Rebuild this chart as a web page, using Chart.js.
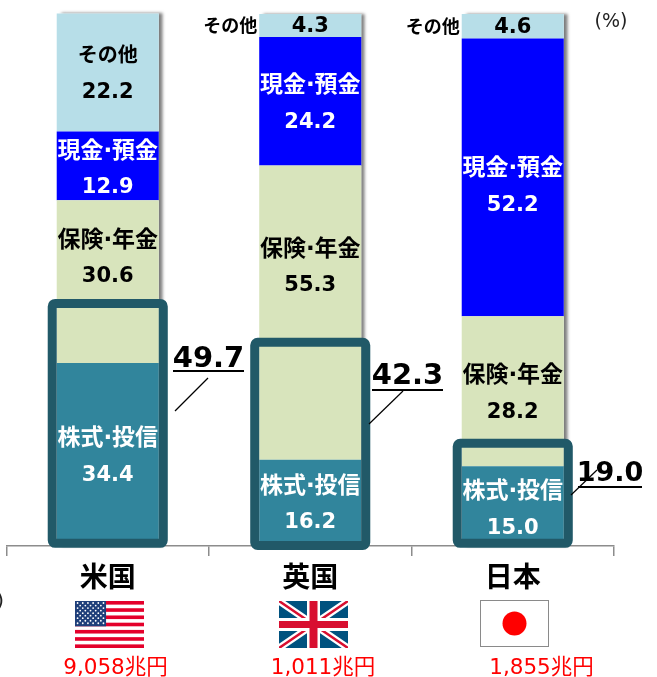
<!DOCTYPE html>
<html lang="ja">
<head>
<meta charset="utf-8">
<title>家計の金融資産構成</title>
<script src="https://cdn.jsdelivr.net/npm/chart.js@4"></script>
<style>
  html, body { margin: 0; padding: 0; background: #fff; overflow: hidden; }
  canvas { display: block; }
</style>
</head>
<body>
<canvas id="assetChart" width="657" height="677"></canvas>
<script>
// Household financial assets by country (%)
const countries = ['米国', '英国', '日本'];
const stockFunds = [34.4, 16.2, 15.0];
const insurancePension = [30.6, 55.3, 28.2];
const cashDeposits = [12.9, 24.2, 52.2];
const others = [22.2, 4.3, 4.6];
const riskShare = ['49.7', '42.3', '19.0'];
const totalAssets = ['9,058兆円', '1,011兆円', '1,855兆円'];

// Highlight frame extent on the value axis
const frameTop = [45.6, 38.3, 19.3];
const frameBottom = [0.5, 0.1, 0.5];

const FONT_JP = '"DejaVu Sans", "Noto Sans CJK JP", sans-serif';
const FRAME_COLOR = '#215968';

const segmentLabels = ['株式·投信', '保険·年金', '現金·預金', 'その他'];
const segmentText = ['#fff', '#000', '#fff', '#000'];
const segmentFontSize = [23, 23, 23, 20];
// vertical nudge of each label block, so text clears the frames
const labelNudge = [[1, 0, 2], [-25, -47, 1], [2, 1, 8], [0, 0, 0]];

function text(ctx, str, x, y, font, color, align) {
  ctx.font = font;
  ctx.fillStyle = color;
  ctx.textAlign = align || 'center';
  ctx.textBaseline = 'middle';
  ctx.fillText(str, x, y);
}

function drawUsFlag(ctx, x, y, w, h) {
  const stripe = h / 13;
  ctx.fillStyle = '#fff';
  ctx.fillRect(x, y, w, h);
  ctx.fillStyle = '#e4002b';
  for (let i = 0; i < 13; i += 2) ctx.fillRect(x, y + i * stripe, w, stripe);
  ctx.fillStyle = '#1f3f7a';
  const cw = w * 0.45, ch = stripe * 7;
  ctx.fillRect(x, y, cw, ch);
  ctx.fillStyle = '#fff';
  for (let r = 0; r < 9; r++) {
    const n = r % 2 ? 5 : 6;
    for (let c = 0; c < n; c++) {
      const sx = x + (c + (r % 2 ? 1 : 0.5)) * cw / 6;
      const sy = y + (r + 0.8) * ch / 10;
      ctx.beginPath();
      ctx.arc(sx, sy, 0.9, 0, Math.PI * 2);
      ctx.fill();
    }
  }
}

function drawUkFlag(ctx, x, y, w, h) {
  ctx.save();
  ctx.beginPath();
  ctx.rect(x, y, w, h);
  ctx.clip();
  ctx.fillStyle = '#00527f';
  ctx.fillRect(x, y, w, h);
  const diag = (color, width) => {
    ctx.strokeStyle = color;
    ctx.lineWidth = width;
    ctx.beginPath();
    ctx.moveTo(x, y); ctx.lineTo(x + w, y + h);
    ctx.moveTo(x + w, y); ctx.lineTo(x, y + h);
    ctx.stroke();
  };
  diag('#fff', 7);
  diag('#d80f30', 2.5);
  ctx.fillStyle = '#fff';
  ctx.fillRect(x + w / 2 - 6.5, y, 13, h);
  ctx.fillRect(x, y + h / 2 - 6.5, w, 13);
  ctx.fillStyle = '#d80f30';
  ctx.fillRect(x + w / 2 - 4, y, 8, h);
  ctx.fillRect(x, y + h / 2 - 3.5, w, 7);
  ctx.restore();
}

function drawJpFlag(ctx, x, y, w, h) {
  ctx.fillStyle = '#fff';
  ctx.fillRect(x, y, w, h);
  ctx.strokeStyle = '#8a8a8a';
  ctx.lineWidth = 1;
  ctx.strokeRect(x + 0.5, y + 0.5, w - 1, h - 1);
  ctx.fillStyle = '#ff0000';
  ctx.beginPath();
  ctx.arc(x + w / 2, y + h / 2, 12, 0, Math.PI * 2);
  ctx.fill();
}

// soft shadow down the right edge of each full stack
const barShadow = {
  id: 'barShadow',
  beforeDatasetsDraw(chart) {
    const ctx = chart.ctx;
    const lowest = chart.getDatasetMeta(0).data;
    const highest = chart.getDatasetMeta(chart.data.datasets.length - 1).data;
    ctx.save();
    ctx.shadowColor = 'rgba(0,0,0,0.5)';
    ctx.shadowBlur = 3;
    ctx.shadowOffsetX = 4;
    ctx.fillStyle = '#fff';
    lowest.forEach((bar, i) => {
      const top = highest[i].y;
      ctx.fillRect(bar.x - bar.width / 2, top, bar.width, bar.base - top);
    });
    ctx.restore();
  }
};

const annotations = {
  id: 'annotations',
  afterDatasetsDraw(chart) {
    const ctx = chart.ctx;
    const yScale = chart.scales.y;

    // segment names and values
    chart.data.datasets.forEach((ds, d) => {
      chart.getDatasetMeta(d).data.forEach((bar, i) => {
        const value = ds.data[i];
        const mid = (bar.y + bar.base) / 2 + labelNudge[d][i];
        const color = segmentText[d];
        const num = 'bold 21px ' + FONT_JP;
        if (value < 10) {
          text(ctx, value.toFixed(1), bar.x, mid + 1, num, color);
          text(ctx, segmentLabels[d], bar.x - bar.width / 2 - 2, mid + 2, 'bold 18px ' + FONT_JP, '#000', 'right');
        } else {
          text(ctx, segmentLabels[d], bar.x, mid - 16, 'bold ' + segmentFontSize[d] + 'px ' + FONT_JP, color);
          text(ctx, value.toFixed(1), bar.x, mid + 20, num, color);
        }
      });
    });

    // highlight frames around stocks + insurance portion
    const stockBars = chart.getDatasetMeta(0).data;
    stockBars.forEach((bar, i) => {
      const top = yScale.getPixelForValue(frameTop[i]);
      const bottom = yScale.getPixelForValue(frameBottom[i]);
      ctx.beginPath();
      ctx.roundRect(bar.x - bar.width / 2 - 4.5, top, bar.width + 9, bottom - top, 3);
      ctx.lineWidth = 9;
      ctx.strokeStyle = FRAME_COLOR;
      ctx.stroke();
    });

    // callouts with the combined share
    const callouts = [
      { x: 208.5, y: 359, size: 29, lineY: 371, x0: 173, x1: 244, from: [175, 411], to: [208, 378] },
      { x: 407.5, y: 376, size: 29, lineY: 390, x0: 372, x1: 443, from: [369, 424], to: [403, 391] },
      { x: 610, y: 474, size: 27, lineY: 487, x0: 578, x1: 642, from: [571, 495], to: [597, 470] }
    ];
    callouts.forEach((c, i) => {
      text(ctx, riskShare[i], c.x, c.y, 'bold ' + c.size + 'px ' + FONT_JP, '#000');
      ctx.fillStyle = '#000';
      ctx.fillRect(c.x0, c.lineY - 1, c.x1 - c.x0, 2);
      ctx.strokeStyle = '#000';
      ctx.lineWidth = 1.2;
      ctx.beginPath();
      ctx.moveTo(c.from[0], c.from[1]);
      ctx.lineTo(c.to[0], c.to[1]);
      ctx.stroke();
    });

    // flags and total assets under the axis
    drawUsFlag(ctx, 75, 601, 69, 47);
    drawUkFlag(ctx, 279, 601, 69, 47);
    drawJpFlag(ctx, 480, 600, 69, 47);
    const totalX = [115.5, 323, 541.5];
    totalAssets.forEach((t, i) => text(ctx, t, totalX[i], 668, '21.5px ' + FONT_JP, '#ff0000'));

    text(ctx, '(%)', 611, 22, '19px ' + FONT_JP, '#222');
    text(ctx, ')', 4, 602, '20px ' + FONT_JP, '#222', 'right');
  }
};

new Chart(document.getElementById('assetChart'), {
  type: 'bar',
  data: {
    labels: countries,
    datasets: [
      { label: '株式・投信', data: stockFunds, backgroundColor: '#31859c' },
      { label: '保険・年金', data: insurancePension, backgroundColor: '#d8e4bc' },
      { label: '現金・預金', data: cashDeposits, backgroundColor: '#0000ff' },
      { label: 'その他', data: others, backgroundColor: '#b7dee8' }
    ]
  },
  options: {
    responsive: false,
    animation: false,
    layout: { padding: { left: 6.5, right: 43, top: 14, bottom: 0 } },
    plugins: { legend: { display: false }, tooltip: { enabled: false } },
    datasets: { bar: { categoryPercentage: 1, barPercentage: 0.504, clip: false } },
    scales: {
      x: {
        stacked: true,
        afterFit: scale => { scale.height = 131; },
        border: { color: '#8c8c8c', width: 1.5 },
        grid: { drawOnChartArea: false, drawTicks: true, tickLength: 10, color: '#8c8c8c', lineWidth: 1.5 },
        ticks: { padding: 7, color: '#000', font: { family: FONT_JP, size: 28, weight: 'bold' } }
      },
      y: { stacked: true, display: false, min: 0, max: 100 }
    }
  },
  plugins: [barShadow, annotations]
});
</script>
</body>
</html>
